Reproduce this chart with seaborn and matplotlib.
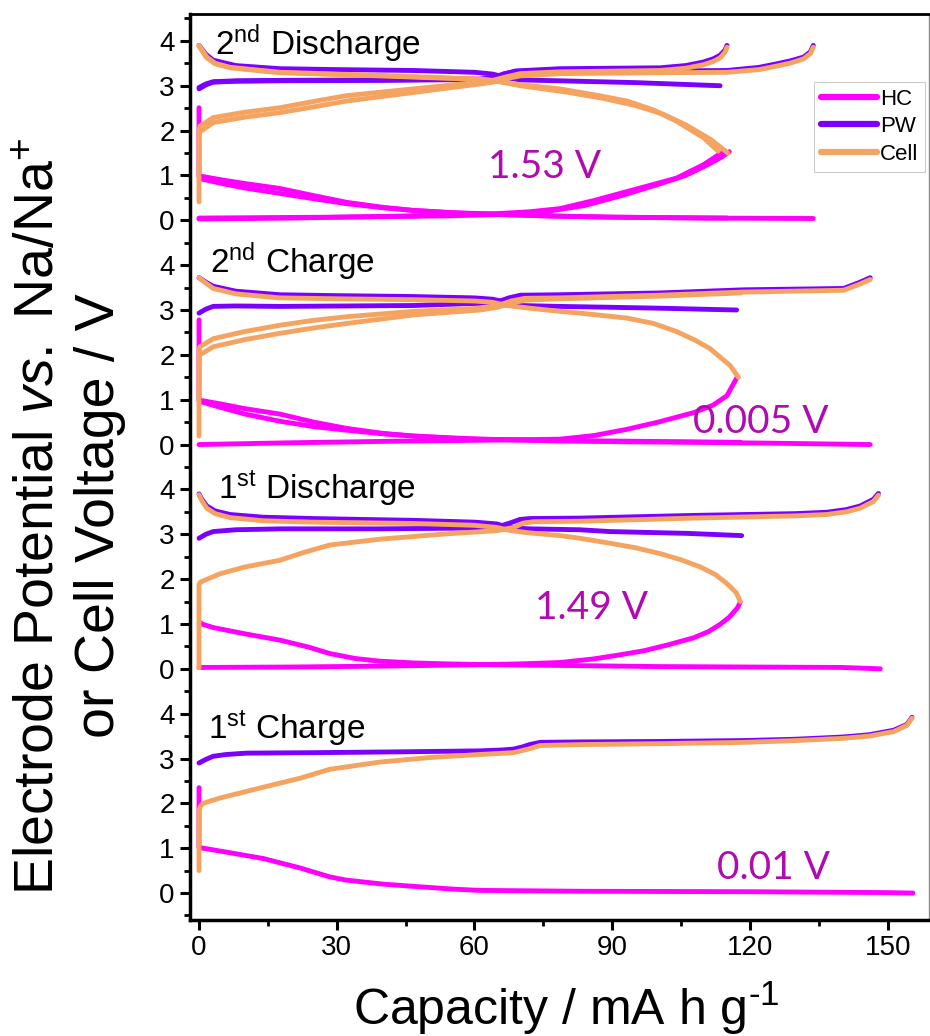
import pandas as pd
import matplotlib.pyplot as plt
import seaborn as sns
from matplotlib.lines import Line2D
from matplotlib.ticker import MultipleLocator, FuncFormatter

# ---- data (capacity in mA h g-1, potential in V) ----
# 1st Charge
c1_hc_x = [0, 0, 0.9, 5, 14, 22, 28.5, 32, 40, 46.7, 55, 61, 83, 120, 150, 155.5]
c1_hc_v = [2.35, 1.02, 1.0, 0.93, 0.77, 0.56, 0.36, 0.29, 0.2, 0.15, 0.09, 0.06, 0.04, 0.03, 0.01, 0.0]
c1_pw_x = [0, 1.5, 3.1, 6, 10.4, 25, 45, 61, 66, 68.5, 70.5, 72, 74.3, 83, 100, 118.6, 130, 140.4, 146, 151.3, 154.2, 155.3]
c1_pw_v = [2.9, 2.98, 3.05, 3.09, 3.12, 3.13, 3.15, 3.17, 3.19, 3.21, 3.26, 3.31, 3.36, 3.37, 3.38, 3.40, 3.43, 3.48, 3.53, 3.63, 3.76, 3.92]
c1_cell_x = [0, 0, 0.4, 0.9, 4.6, 14, 22, 28.5, 39.4, 50, 61.2, 68.5, 72.1, 74.3, 83, 100, 118.6, 130, 140.4, 146, 151.3, 154.2, 155.3]
c1_cell_v = [0.5, 1.85, 1.95, 2.0, 2.12, 2.36, 2.56, 2.76, 2.92, 3.02, 3.09, 3.13, 3.22, 3.29, 3.31, 3.33, 3.36, 3.40, 3.45, 3.5, 3.6, 3.74, 3.9]

# 1st Discharge
d1_hc_c_x = [0.3, 0.6, 3.1, 10, 17.6, 24, 28.5, 34, 39.4, 47, 54, 65, 83, 100, 120, 140, 148.4]
d1_hc_c_v = [1.03, 1.0, 0.92, 0.78, 0.64, 0.48, 0.34, 0.23, 0.17, 0.13, 0.11, 0.09, 0.07, 0.05, 0.04, 0.03, 0.0]
d1_hc_d_x = [0, 20, 40, 60, 70, 78.6, 85.9, 91, 96.8, 102, 107.7, 111, 113.5, 115.5, 117.3, 117.9]
d1_hc_d_v = [0.03, 0.04, 0.06, 0.09, 0.11, 0.14, 0.22, 0.3, 0.4, 0.53, 0.69, 0.83, 0.99, 1.15, 1.36, 1.49]
d1_pw_c_x = [0, 1.5, 3.1, 8, 17.6, 39.4, 61.2, 65.6, 68, 69.9, 72, 83, 107.7, 130, 136.7, 141, 144, 146.9, 148]
d1_pw_c_v = [2.91, 3.0, 3.06, 3.1, 3.12, 3.12, 3.14, 3.18, 3.26, 3.33, 3.35, 3.36, 3.42, 3.46, 3.49, 3.55, 3.63, 3.78, 3.91]
d1_pw_d_x = [0, 0.6, 1.7, 3.5, 6.8, 14, 24.9, 46.7, 60, 64.9, 66.5, 68.5, 72, 83, 89.5, 106.2, 118.2]
d1_pw_d_v = [3.9, 3.78, 3.63, 3.52, 3.44, 3.38, 3.35, 3.31, 3.27, 3.23, 3.18, 3.14, 3.12, 3.10, 3.06, 3.02, 2.97]
d1_cell_c_x = [0, 0, 0.3, 0.9, 4.6, 10, 17.6, 23, 28.5, 39.4, 54, 64.9, 68.5, 70.7, 73, 83, 107.7, 130, 136.7, 141, 144, 146.9, 148]
d1_cell_c_v = [0.02, 1.88, 1.93, 1.96, 2.12, 2.27, 2.42, 2.6, 2.76, 2.89, 3.01, 3.08, 3.15, 3.25, 3.28, 3.29, 3.36, 3.41, 3.44, 3.5, 3.58, 3.73, 3.87]
d1_cell_d_x = [0, 0.6, 1.7, 3.5, 6.8, 14, 24.9, 46.7, 60, 64.9, 68, 72, 78.6, 83, 89.5, 95, 100.4, 105, 109.2, 112.5, 115, 117, 117.9]
d1_cell_d_v = [3.88, 3.75, 3.58, 3.46, 3.37, 3.3, 3.27, 3.24, 3.2, 3.15, 3.08, 3.03, 2.97, 2.91, 2.8, 2.7, 2.57, 2.43, 2.27, 2.1, 1.9, 1.7, 1.5]

# 2nd Charge
c2_hc_c1_x = [0, 0, 0.6, 5, 10, 17.6, 25, 32.2, 40, 46.7, 55, 61.2, 78.6, 95, 107.7, 125, 146.2]
c2_hc_c1_v = [2.78, 0.98, 0.98, 0.9, 0.8, 0.68, 0.5, 0.36, 0.25, 0.19, 0.14, 0.12, 0.08, 0.06, 0.05, 0.03, 0.0]
c2_hc_c2_x = [0.6, 5, 10, 17.6, 25, 32.2, 40, 46.7, 55, 61.2, 78.6, 118]
c2_hc_c2_v = [0.95, 0.82, 0.68, 0.52, 0.4, 0.32, 0.24, 0.19, 0.15, 0.12, 0.09, 0.05]
c2_hc_d_x = [0, 20, 46.7, 65, 78.6, 86, 93.2, 100, 107.7, 112, 115, 117.1]
c2_hc_d_v = [0.0, 0.04, 0.08, 0.1, 0.12, 0.2, 0.34, 0.5, 0.71, 0.88, 1.09, 1.48]
c2_pw_c_x = [0, 1.5, 3.1, 8, 17.6, 46.7, 61.2, 65, 67.5, 70, 78.6, 100.4, 118.6, 140.4, 144, 146.2]
c2_pw_c_v = [2.93, 3.02, 3.08, 3.09, 3.08, 3.10, 3.15, 3.18, 3.27, 3.33, 3.34, 3.38, 3.45, 3.48, 3.62, 3.72]
c2_pw_d_x = [0, 1.5, 3.1, 8, 17.6, 30, 46.7, 60, 64, 67, 70, 78.6, 90, 100.4, 117.1]
c2_pw_d_v = [3.72, 3.62, 3.53, 3.42, 3.34, 3.32, 3.30, 3.27, 3.24, 3.17, 3.1, 3.08, 3.06, 3.04, 3.0]
c2_cell_c1_x = [0, 0, 0.2, 3.1, 10, 17.6, 25, 32.2, 46.7, 61.2, 65, 68, 71, 78.6, 100.4, 118.6, 140.4, 144, 146.2]
c2_cell_c1_v = [0.19, 2.1, 2.18, 2.36, 2.52, 2.66, 2.77, 2.85, 2.97, 3.04, 3.1, 3.2, 3.26, 3.27, 3.33, 3.4, 3.44, 3.58, 3.68]
c2_cell_c2_x = [0.2, 3.1, 10, 17.6, 25, 32.2, 46.7, 61.2, 65, 68, 71, 78.6, 100.4, 118]
c2_cell_c2_v = [2.0, 2.18, 2.34, 2.48, 2.6, 2.70, 2.89, 3.0, 3.06, 3.15, 3.22, 3.25, 3.31, 3.38]
c2_cell_d_x = [0, 1.5, 3.1, 8, 17.6, 30, 46.7, 60, 64, 67, 72.1, 78.6, 83, 93.2, 99, 104, 108, 111.3, 115.7, 117.5]
c2_cell_d_v = [3.72, 3.6, 3.48, 3.36, 3.27, 3.25, 3.23, 3.2, 3.17, 3.1, 3.04, 2.97, 2.93, 2.82, 2.7, 2.52, 2.33, 2.14, 1.76, 1.5]

# 2nd Discharge
d2_hc_c1_x = [0, 0, 0.6, 5, 10, 17.6, 25, 32.2, 40, 46.7, 55, 61.2, 75, 90, 110, 133.8]
d2_hc_c1_v = [2.51, 0.98, 0.98, 0.9, 0.82, 0.71, 0.55, 0.4, 0.29, 0.22, 0.17, 0.15, 0.1, 0.07, 0.05, 0.04]
d2_hc_c2_x = [0.6, 5, 10, 17.6, 25, 32.2, 40, 46.7, 55, 61.2, 75, 90, 115]
d2_hc_c2_v = [0.92, 0.82, 0.72, 0.6, 0.48, 0.37, 0.28, 0.22, 0.17, 0.14, 0.1, 0.07, 0.05]
d2_hc_d1_x = [0, 20, 46.7, 65, 72, 78.6, 86, 93.2, 99, 104, 109.9, 113, 114.5]
d2_hc_d1_v = [0.03, 0.05, 0.1, 0.15, 0.19, 0.26, 0.44, 0.64, 0.8, 0.94, 1.24, 1.45, 1.55]
d2_hc_d2_x = [0, 30, 55, 68, 76, 84, 92, 100, 106, 111, 114, 115.5]
d2_hc_d2_v = [0.05, 0.07, 0.1, 0.14, 0.2, 0.33, 0.55, 0.8, 1.0, 1.25, 1.42, 1.53]
d2_pw_c1_x = [0, 1.5, 3.1, 8, 17.6, 40, 61.2, 64, 66.5, 69, 78.6, 100.4, 106, 109.9, 112, 113.5, 114.6, 115]
d2_pw_c1_v = [2.93, 3.02, 3.08, 3.1, 3.11, 3.12, 3.14, 3.17, 3.26, 3.33, 3.38, 3.40, 3.45, 3.53, 3.6, 3.68, 3.8, 3.9]
d2_pw_c2_x = [0, 1.5, 3.1, 8, 17.6, 40, 61.2, 64, 66.5, 69, 78.6, 100.4, 115, 122, 125.9, 129, 131.7, 133.2, 133.8]
d2_pw_c2_v = [2.96, 3.04, 3.09, 3.11, 3.12, 3.13, 3.15, 3.18, 3.27, 3.32, 3.33, 3.33, 3.34, 3.41, 3.49, 3.56, 3.64, 3.76, 3.9]
d2_pw_d_x = [0, 1.5, 3.1, 8, 17.6, 30, 46.7, 60, 64, 67, 70, 78.6, 95, 113.5]
d2_pw_d_v = [3.9, 3.7, 3.57, 3.45, 3.38, 3.36, 3.34, 3.3, 3.26, 3.18, 3.13, 3.11, 3.07, 3.0]
d2_cell_c1_x = [0, 0, 0.2, 3.1, 10, 17.6, 25, 32.2, 46.7, 61.2, 64, 67, 70, 78.6, 100.4, 106, 109.9, 112, 113.5, 114.6, 115]
d2_cell_c1_v = [0.41, 2.0, 2.10, 2.29, 2.41, 2.51, 2.65, 2.78, 2.93, 3.08, 3.12, 3.2, 3.27, 3.31, 3.34, 3.39, 3.47, 3.54, 3.62, 3.75, 3.86]
d2_cell_c2_x = [0.2, 3.1, 10, 17.6, 25, 32.2, 46.7, 61.2, 64, 67, 70, 78.6, 100.4, 115, 122, 125.9, 129, 131.7, 133.2, 133.8]
d2_cell_c2_v = [1.97, 2.18, 2.3, 2.40, 2.53, 2.66, 2.85, 3.04, 3.08, 3.16, 3.22, 3.27, 3.29, 3.3, 3.36, 3.44, 3.51, 3.6, 3.72, 3.86]
d2_cell_d1_x = [0, 1.7, 3.5, 6.8, 17.6, 39.4, 61.2, 64, 68.5, 78.6, 86, 93.2, 99, 104, 109.9, 113.1]
d2_cell_d1_v = [3.9, 3.64, 3.5, 3.41, 3.30, 3.23, 3.15, 3.12, 3.04, 2.93, 2.8, 2.66, 2.46, 2.21, 1.84, 1.54]
d2_cell_d2_x = [0, 1.7, 3.5, 6.8, 17.6, 39.4, 61.2, 65, 70, 80, 88, 95, 101, 106, 111.5, 115.2]
d2_cell_d2_v = [3.88, 3.62, 3.49, 3.4, 3.29, 3.22, 3.14, 3.1, 3.0, 2.86, 2.72, 2.56, 2.37, 2.13, 1.8, 1.5]

electrodes = ['HC', 'PW', 'Cell']
colors = ['#FF00FF', '#7B00FF', '#F4A460']
panel_names = ['1st Charge', '1st Discharge', '2nd Charge', '2nd Discharge']
panel_step = 5  # each panel is shifted up by 5 V on a shared axis

curves = [
    (0, 'HC', c1_hc_x, c1_hc_v), (0, 'PW', c1_pw_x, c1_pw_v), (0, 'Cell', c1_cell_x, c1_cell_v),
    (1, 'HC', d1_hc_c_x, d1_hc_c_v), (1, 'HC', d1_hc_d_x, d1_hc_d_v),
    (1, 'PW', d1_pw_c_x, d1_pw_c_v), (1, 'PW', d1_pw_d_x, d1_pw_d_v),
    (1, 'Cell', d1_cell_c_x, d1_cell_c_v), (1, 'Cell', d1_cell_d_x, d1_cell_d_v),
    (2, 'HC', c2_hc_c1_x, c2_hc_c1_v), (2, 'HC', c2_hc_c2_x, c2_hc_c2_v), (2, 'HC', c2_hc_d_x, c2_hc_d_v),
    (2, 'PW', c2_pw_c_x, c2_pw_c_v), (2, 'PW', c2_pw_d_x, c2_pw_d_v),
    (2, 'Cell', c2_cell_c1_x, c2_cell_c1_v), (2, 'Cell', c2_cell_c2_x, c2_cell_c2_v),
    (2, 'Cell', c2_cell_d_x, c2_cell_d_v),
    (3, 'HC', d2_hc_c1_x, d2_hc_c1_v), (3, 'HC', d2_hc_c2_x, d2_hc_c2_v),
    (3, 'HC', d2_hc_d1_x, d2_hc_d1_v), (3, 'HC', d2_hc_d2_x, d2_hc_d2_v),
    (3, 'PW', d2_pw_c1_x, d2_pw_c1_v), (3, 'PW', d2_pw_c2_x, d2_pw_c2_v), (3, 'PW', d2_pw_d_x, d2_pw_d_v),
    (3, 'Cell', d2_cell_c1_x, d2_cell_c1_v), (3, 'Cell', d2_cell_c2_x, d2_cell_c2_v),
    (3, 'Cell', d2_cell_d1_x, d2_cell_d1_v), (3, 'Cell', d2_cell_d2_x, d2_cell_d2_v),
]

rows = []
for i, (panel, elec, xs, vs) in enumerate(curves):
    for x, v in zip(xs, vs):
        rows.append({'capacity': x, 'voltage': v + panel * panel_step,
                     'electrode': elec, 'curve': i})
df = pd.DataFrame(rows)

sns.set_theme(style='ticks')
plt.rcParams['font.family'] = ['Liberation Sans', 'DejaVu Sans']
plt.rcParams['mathtext.fontset'] = 'custom'
plt.rcParams['mathtext.rm'] = 'Liberation Sans'
plt.rcParams['mathtext.it'] = 'Liberation Sans:italic'
plt.rcParams['mathtext.sf'] = 'Liberation Sans'
for key in ['text.color', 'axes.labelcolor', 'xtick.color', 'ytick.color', 'axes.edgecolor']:
    plt.rcParams[key] = 'black'

fig = plt.figure(figsize=(9.3, 10.36), dpi=100)
ax = fig.add_axes([0.2043, 0.112, 0.7946, 0.8745])

sns.lineplot(data=df, x='capacity', y='voltage', hue='electrode', hue_order=electrodes,
             palette=colors, units='curve', estimator=None, sort=False,
             linewidth=3.5, legend=False, ax=ax, solid_capstyle='round')

ax.set_xlim(-1.96, 159)
ax.set_ylim(-0.6, 19.6)
ax.xaxis.set_major_locator(MultipleLocator(30))
ax.xaxis.set_minor_locator(MultipleLocator(15))
ax.yaxis.set_major_locator(MultipleLocator(1))
ax.yaxis.set_minor_locator(MultipleLocator(0.5))
ax.yaxis.set_major_formatter(FuncFormatter(lambda v, p: f'{int(round(v)) % panel_step}'))
ax.tick_params(which='major', direction='out', length=7, width=2.2, labelsize=20, pad=4,
               colors='black')
ax.tick_params(which='minor', direction='out', length=4, width=2.0, colors='black')
ax.set_xlabel('')
ax.set_ylabel('')

for side in ['left', 'bottom']:
    ax.spines[side].set_linewidth(2.5)
ax.spines['top'].set_linewidth(2.0)
ax.spines['right'].set_linewidth(1.0)
ax.spines['right'].set_color('#8a8a8a')
for side in ax.spines:
    ax.spines[side].set_visible(True)

# panel titles
titles = [r'1$^{\mathrm{st}}$ Charge', r'1$^{\mathrm{st}}$ Discharge',
          r'2$^{\mathrm{nd}}$ Charge', r'2$^{\mathrm{nd}}$ Discharge']
title_pos = [(2.0, 3.42), (4.1, 8.77), (2.4, 13.82), (3.5, 18.68)]
for t, (tx, ty) in zip(titles, title_pos):
    ax.text(tx, ty, t, fontsize=24, ha='left', va='baseline', color='black')

# cut-off annotations
notes = [('0.01 V', 112.9, 0.56), ('1.49 V', 73.2, 6.36), ('0.005 V', 107.6, 10.5), ('1.53 V', 63.0, 16.19)]
for t, tx, ty in notes:
    ax.text(tx, ty, t, fontsize=28, ha='left', va='center', color='#B00BB0', family='Lato')

handles = [Line2D([0], [0], color=c, lw=4.5, solid_capstyle='round') for c in colors]
leg = ax.legend(handles, electrodes, loc='upper right', bbox_to_anchor=(0.9946, 0.925),
                borderaxespad=0, fontsize=16, handlelength=2.5, handletextpad=0.15,
                labelspacing=0.3, borderpad=0.3, fancybox=False, framealpha=1)
leg.get_frame().set_edgecolor('#cccccc')
leg.get_frame().set_linewidth(0.8)

fig.text(566 / 930, 0.0106, r'Capacity / mA h g$^{\text{-}1}$', fontsize=36, ha='center', va='baseline')
fig.text(70 / 930, 1 - 516 / 1036,
         'Electrode Potential $\\mathit{vs.}$ Na/Na$^{+}$\nor Cell Voltage / V',
         fontsize=40, rotation=90, ha='center', va='center', multialignment='center')

fig.savefig('out.png', dpi=100)
